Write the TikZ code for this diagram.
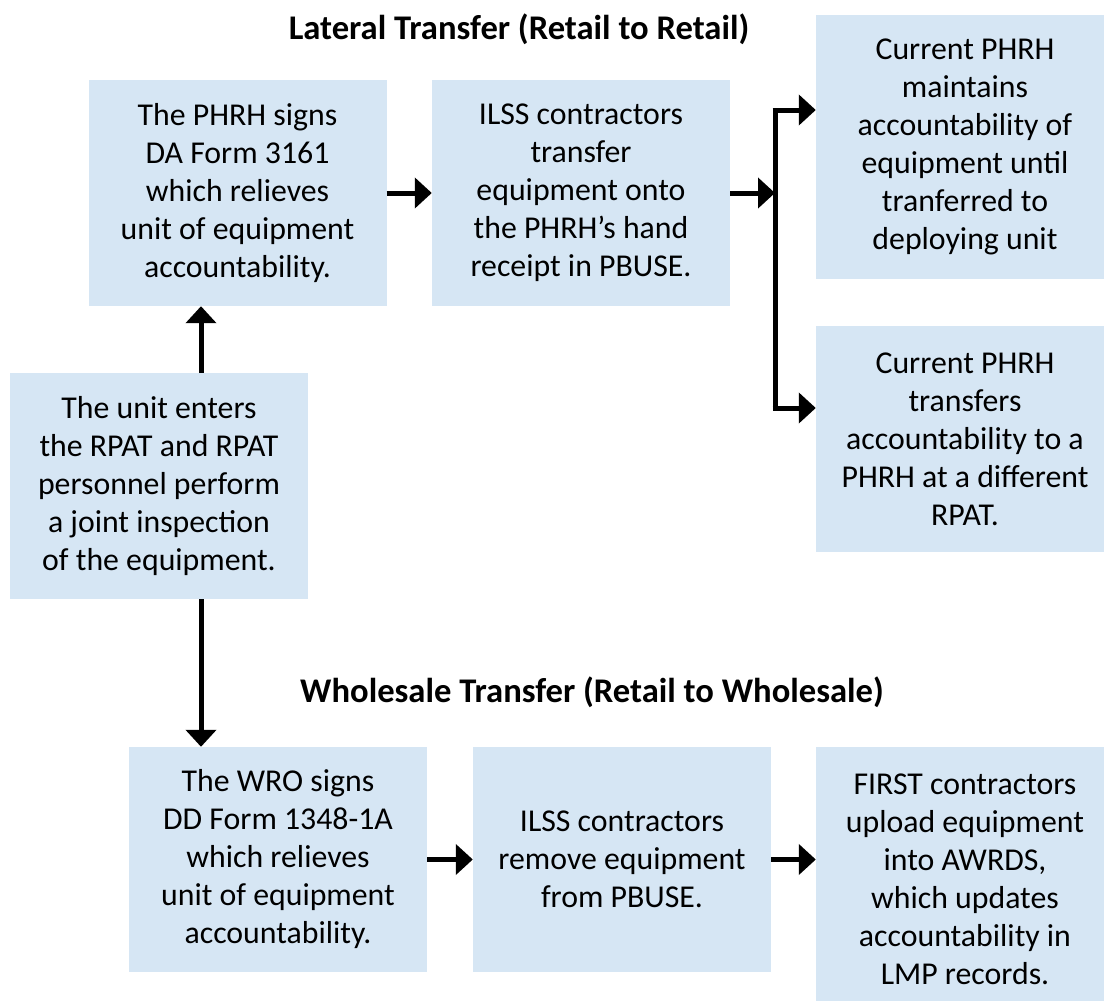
\documentclass[tikz,border=0pt]{standalone}
\usepackage{fontspec}
\setmainfont{Carlito}
\usetikzlibrary{arrows.meta}
\definecolor{boxblue}{HTML}{D6E6F4}
\tikzset{
  stepbox/.style={fill=boxblue, draw=none, inner sep=0pt, align=center,
    minimum width=298pt, font=\fontsize{31.8}{38}\selectfont},
  titletext/.style={inner sep=0pt, font=\fontsize{34.6}{40}\selectfont\bfseries},
  arr/.style={line width=5pt, line join=miter, -{Triangle[length=17pt,width=30pt]}},
}
\begin{document}
\begin{tikzpicture}[x=1pt,y=-1pt]
\useasboundingbox (0,0) rectangle (1104,1001);
\clip (0,0) rectangle (1104,1001);
\fill[white] (0,0) rectangle (1104,1001);

\node[titletext] (t1) at (519,29) {Lateral Transfer (Retail to Retail)};
\node[titletext] (t2) at (592,692) {Wholesale Transfer (Retail to Wholesale)};

\node[stepbox, minimum height=226pt] (A) at (237.5,193) {The PHRH signs\\DA Form 3161\\which relieves\\unit of equipment\\accountability.};
\node[stepbox, minimum height=226pt] (B) at (581,193) {ILSS contractors\\transfer\\equipment onto\\the PHRH’s hand\\receipt in PBUSE.};
\node[stepbox, minimum height=264pt] (C) at (965,147) {Current PHRH\\maintains\\accountability of\\equipment until\\tranferred to\\deploying unit};
\node[stepbox, minimum height=226pt] (E) at (965,439) {Current PHRH\\transfers\\accountability to a\\PHRH at a different\\RPAT.};
\node[stepbox, minimum height=226pt] (D) at (159,486) {The unit enters\\the RPAT and RPAT\\personnel perform\\a joint inspection\\of the equipment.};
\node[stepbox, minimum height=225pt] (F) at (278,859.5) {The WRO signs\\DD Form 1348-1A\\which relieves\\unit of equipment\\accountability.};
\node[stepbox, minimum height=225pt] (G) at (622,859.5) {ILSS contractors\\remove equipment\\from PBUSE.};
\node[stepbox, minimum height=264pt] (H) at (965,879) {FIRST contractors\\upload equipment\\into AWRDS,\\which updates\\accountability in\\LMP records.};

% arrows
\draw[arr] (D.north -| 201,0) -- (A.south -| 201,0);
\draw[arr] (D.south -| 201,0) -- (F.north -| 201,0);
\draw[arr] (A.east) -- (B.west);
\coordinate (J) at (775,193);
\coordinate (Jt) at (775,110);
\coordinate (Jb) at (775,408);
\draw[arr] (B.east) -- (J);
\draw[line width=5pt] (Jt) -- (Jb);
\draw[arr] ([xshift=-2.5pt]Jt) -- (Jt -| C.west);
\draw[arr] ([xshift=-2.5pt]Jb) -- (Jb -| E.west);
\draw[arr] (F.east) -- (G.west);
\draw[arr] (G.east) -- (H.west |- G.east);
\end{tikzpicture}
\end{document}
